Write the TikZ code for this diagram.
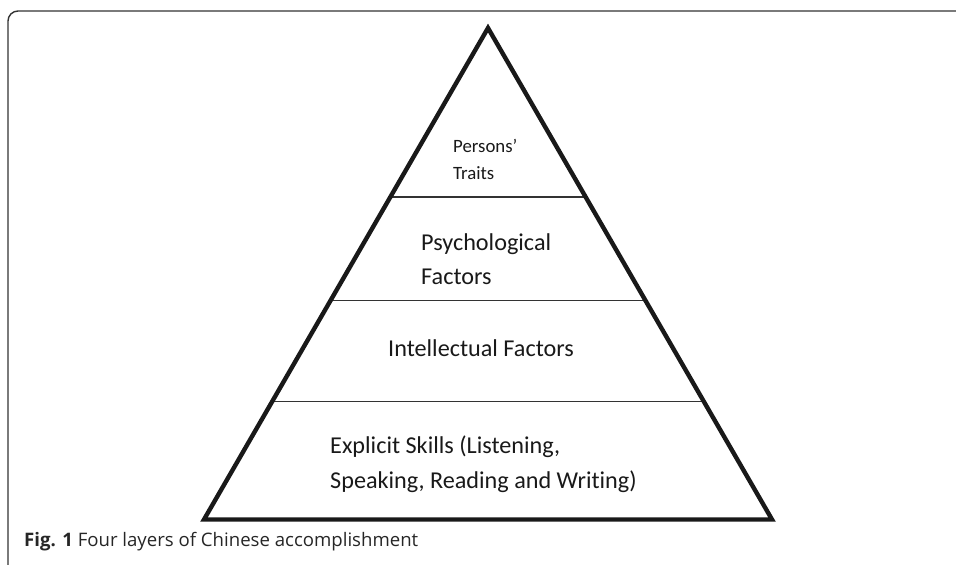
\documentclass[tikz,border=0pt]{standalone}
\usepackage{fontspec}
\setmainfont{Carlito}[Ligatures=NoCommon]
\newfontfamily\capfont{Open Sans}
\usetikzlibrary{calc}
\begin{document}
\begin{tikzpicture}[x=1pt,y=-1pt,
  frameline/.style={draw=black!80,line width=1.4pt},
  pyramid/.style={draw=black!90,line width=4.4pt,line join=miter},
  layerline/.style={draw=black!80,line width=1.5pt},
  small/.style={anchor=base west,inner sep=0pt,font=\fontsize{18.8}{22}\selectfont,text=black!90},
  big/.style={anchor=base west,inner sep=0pt,font=\fontsize{24.2}{28}\selectfont,text=black!90},
  caption/.style={anchor=base west,inner sep=0pt,font=\capfont\fontsize{18.6}{22}\selectfont,text=black!85}]
\useasboundingbox (0,0) rectangle (956,565);
% open frame
\coordinate (fbot) at (8,565);
\coordinate (fright) at (956,11);
\draw[frameline,rounded corners=10pt] (fbot) -- (8,11) -- (fright);
% pyramid corners
\coordinate (apex) at (488,28);
\coordinate (bl) at (204,519.5);
\coordinate (br) at (772,519.5);
% layer boundaries on the sides
\coordinate (l1) at ($(apex)!0.3442!(bl)$);
\coordinate (r1) at ($(apex)!0.3442!(br)$);
\coordinate (l2) at ($(apex)!0.5547!(bl)$);
\coordinate (r2) at ($(apex)!0.5547!(br)$);
\coordinate (l3) at ($(apex)!0.7597!(bl)$);
\coordinate (r3) at ($(apex)!0.7597!(br)$);
\draw[layerline] (l1) -- (r1);
\draw[layerline] (l2) -- (r2);
\draw[layerline] (l3) -- (r3);
\draw[pyramid] (apex) -- (bl) -- (br) -- cycle;
% labels
\node[small] (t1a) at (453,152) {Persons’};
\node[small] (t1b) at (453,179) {Traits};
\node[big] (t2a) at (421,250) {Psychological};
\node[big] (t2b) at (421,284) {Factors};
\node[big] (t3) at (388,356) {Intellectual Factors};
\node[big] (t4a) at (330,453) {Explicit Skills (Listening,};
\node[big] (t4b) at (330,488) {Speaking, Reading and Writing)};
\node[caption] (cap) at (24,546) {\textbf{Fig. 1} Four layers of Chinese accomplishment};
\end{tikzpicture}
\end{document}
